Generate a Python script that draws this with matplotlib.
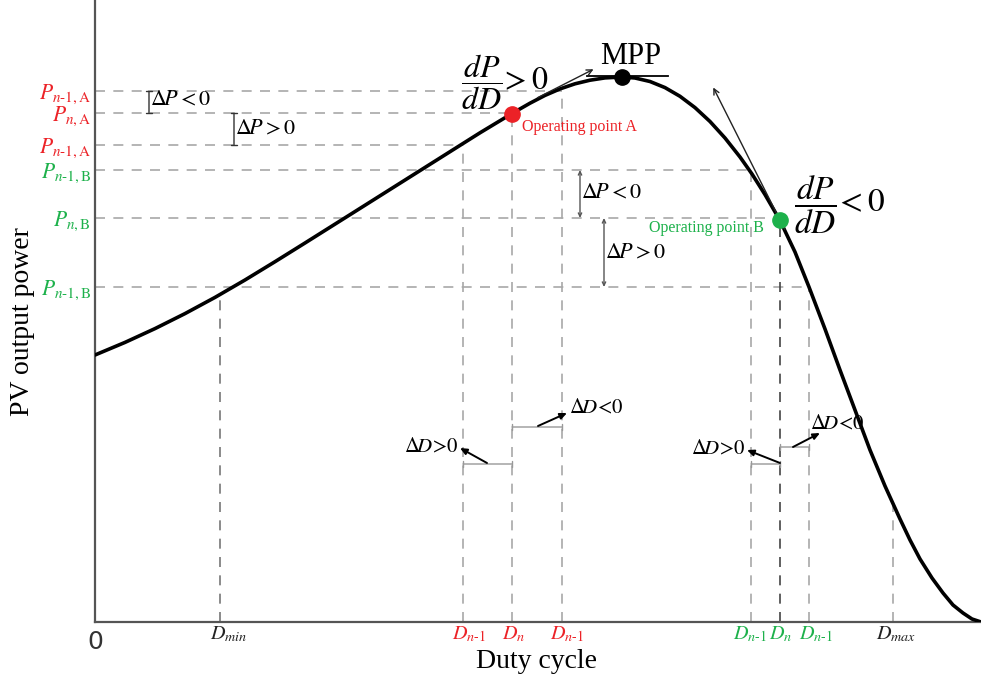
import matplotlib
matplotlib.use('Agg')
import matplotlib.pyplot as plt

plt.rcParams['font.family'] = ['Liberation Serif', 'DejaVu Serif']
plt.rcParams['mathtext.fontset'] = 'stix'

RED = '#ec2227'
GREEN = '#1db14b'
DASH = '#a8a8a8'

# P-D curve (arbitrary units)
duty = [0, 30, 60, 90, 120, 150, 180, 210, 255, 305, 355, 385, 417,
        435, 450, 465, 480, 495, 510, 527,
        540, 555, 570, 585, 600, 615, 630, 645, 657, 670, 685,
        700, 714, 730, 745, 760, 775, 790, 805, 815, 825, 837, 848,
        858, 868, 877, 886]
power = [267, 279.6, 293.4, 308.4, 324.6, 342, 360.3, 379, 407.3, 438.8, 470.3, 489.2, 508.5,
         518.8, 526.6, 533.1, 538.2, 541.8, 544.1, 545,
         544, 540.5, 534.4, 525.7, 514.4, 500.5, 484, 465, 448, 427.4, 401.5,
         370, 335, 293, 252, 212, 172, 136, 103, 82, 63, 44, 29,
         17, 9, 3, 0]

# levels on the axes
HY = '\u2010'
p_levels = [531, 509, 477, 452, 404, 335]
p_labels = [r'$P_{n\mathrm{%s1,A}}$' % HY, r'$P_{n\mathrm{,A}}$', r'$P_{n\mathrm{%s1,A}}$' % HY,
            r'$P_{n\mathrm{%s1,B}}$' % HY, r'$P_{n\mathrm{,B}}$', r'$P_{n\mathrm{%s1,B}}$' % HY]
p_colors = [RED, RED, RED, GREEN, GREEN, GREEN]
p_reach = [467, 417, 368, 656, 685, 714]

d_levels = [125, 368, 417, 467, 656, 685, 714, 798]
d_labels = [r'$D_{min}$', r'$D_{n\mathrm{%s1}}$' % HY, r'$D_n$', r'$D_{n\mathrm{%s1}}$' % HY,
            r'$D_{n\mathrm{%s1}}$' % HY, r'$D_n$', r'$D_{n\mathrm{%s1}}$' % HY, r'$D_{max}$']
d_colors = ['#222222', RED, RED, RED, GREEN, GREEN, GREEN, '#222222']
d_shift = [9, 6, 2, 5, -1, 1, 7, 3]
d_reach = [326, 477, 508, 531, 452, 403, 335, 122]
d_line_colors = ['#777777', DASH, DASH, DASH, DASH, '#444444', DASH, DASH]

point_a = (417, 508.5)
point_mpp = (527, 545)
point_b = (685, 402)

fig = plt.figure(figsize=(9.81, 6.81), dpi=100)
ax = fig.add_axes([95 / 981, 59 / 681, 886 / 981, 622 / 681])
ax.set_xlim(0, 886)
ax.set_ylim(0, 622)
for s in ['top', 'right']:
    ax.spines[s].set_visible(False)
for s in ['left', 'bottom']:
    ax.spines[s].set_color('#555555')
    ax.spines[s].set_linewidth(1.6)

dash = (0, (6, 5))
for p, d in zip(p_levels, p_reach):
    ax.plot([0, d], [p, p], color=DASH, lw=1.2, ls=dash, zorder=1)
for d, p, c in zip(d_levels, d_reach, d_line_colors):
    ax.plot([d, d], [0, p], color=c, lw=1.2, ls=dash, zorder=1)

ax.plot(duty, power, color='black', lw=2.6, solid_capstyle='round',
        solid_joinstyle='round', zorder=3)

ax.plot(*point_a, 'o', color=RED, ms=11, zorder=4)
ax.plot(*point_mpp, 'o', color='black', ms=11, zorder=4)
ax.plot(*point_b, 'o', color=GREEN, ms=11, zorder=4)

# ticks
ax.set_yticks(p_levels)
ax.set_yticklabels(p_labels, fontsize=15.5)
for lab, c in zip(ax.get_yticklabels(), p_colors):
    lab.set_color(c)
ax.set_xticks([])
ax.tick_params(axis='both', length=0, pad=3)
for d, lab, c, dx in zip(d_levels, d_labels, d_colors, d_shift):
    ax.text(d + dx, -3, lab, color=c, fontsize=14.5, ha='center', va='top')
ax.text(0, -8, '0', ha='center', va='top', fontsize=18, family='DejaVu Sans',
        color='#333333')

fig.text(23 / 981, 1 - 322 / 681, 'PV output power', rotation=90,
         ha='center', va='center', fontsize=20)
fig.text(537 / 981, 1 - 662 / 681, 'Duty cycle', ha='center', va='center',
         fontsize=20)

# MPP and tangents
ax.text(536, 565, 'MPP', ha='center', va='center', fontsize=22)
ax.plot([492, 573], [546, 546], color='black', lw=1.3, zorder=2)
ax.annotate('', xy=(501, 554), xytext=(440, 523),
            arrowprops=dict(arrowstyle='->', color='#222222', lw=1.0))
ax.annotate('', xy=(617, 537), xytext=(691, 390),
            arrowprops=dict(arrowstyle='->', color='#222222', lw=1.0))
ax.text(366, 540, r'$\dfrac{dP}{dD}\!>0$', ha='left', va='center', fontsize=23)
ax.text(699, 417, r'$\dfrac{dP}{dD}\!<0$', ha='left', va='center', fontsize=24)

ax.text(427, 495, 'Operating point A', color=RED, fontsize=11.5, ha='left',
        va='center')
ax.text(669, 394, 'Operating point B', color=GREEN, fontsize=11.5, ha='right',
        va='center')

# delta P brackets
cap = dict(arrowstyle='|-|, widthA=0.25, widthB=0.25', color='#333333', lw=1.0,
           shrinkA=0, shrinkB=0)
tip = dict(arrowstyle='<->, head_length=0.25, head_width=0.12', color='#555555',
           lw=1.0, shrinkA=0, shrinkB=0)
ax.annotate('', xy=(54, 531), xytext=(54, 509), arrowprops=cap)
ax.text(55, 521, r'$\Delta\!P < 0$', fontsize=16, va='center')
ax.annotate('', xy=(139, 509), xytext=(139, 477), arrowprops=cap)
ax.text(140, 492, r'$\Delta\!P > 0$', fontsize=16, va='center')
ax.annotate('', xy=(485, 452), xytext=(485, 404), arrowprops=tip)
ax.text(486, 428, r'$\Delta\!P < 0$', fontsize=16, va='center')
ax.annotate('', xy=(509, 404), xytext=(509, 335), arrowprops=tip)
ax.text(510, 368, r'$\Delta\!P > 0$', fontsize=16, va='center')

# delta D brackets
hcap = dict(arrowstyle='|-|, widthA=0.2, widthB=0.2', color='#999999', lw=1.0,
            shrinkA=0, shrinkB=0)
pointer = dict(arrowstyle='-|>, head_length=0.4, head_width=0.18', color='black',
               lw=1.4, shrinkA=0, shrinkB=0)
ax.annotate('', xy=(368, 158), xytext=(417, 158), arrowprops=hcap)
ax.annotate('', xy=(365, 174), xytext=(392, 159), arrowprops=pointer)
ax.text(364, 174, r'$\Delta\!D\!>\!0$', fontsize=15, ha='right', va='center')
ax.annotate('', xy=(417, 195), xytext=(467, 195), arrowprops=hcap)
ax.annotate('', xy=(472, 209), xytext=(443, 196), arrowprops=pointer)
ax.text(474, 213, r'$\Delta\!D\!<\!0$', fontsize=15, ha='left', va='center')
ax.annotate('', xy=(656, 158), xytext=(685, 158), arrowprops=hcap)
ax.annotate('', xy=(652, 172), xytext=(685, 159), arrowprops=pointer)
ax.text(651, 172, r'$\Delta\!D\!>\!0$', fontsize=15, ha='right', va='center')
ax.annotate('', xy=(685, 175), xytext=(714, 175), arrowprops=hcap)
ax.annotate('', xy=(725, 189), xytext=(698, 175), arrowprops=pointer)
ax.text(715, 197, r'$\Delta\!D\!<\!0$', fontsize=15, ha='left', va='center')

fig.savefig('out.png', dpi=100)
